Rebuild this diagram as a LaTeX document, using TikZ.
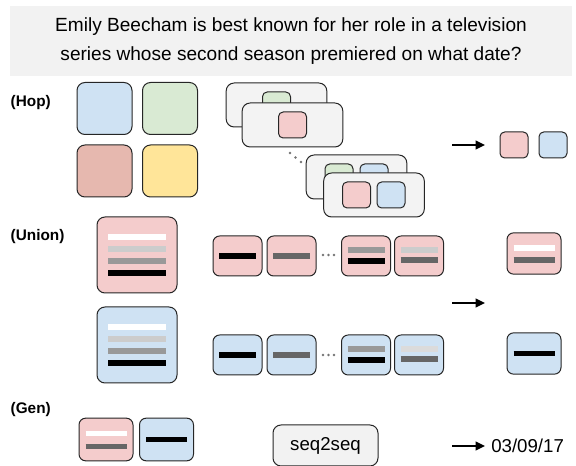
\documentclass[tikz,border=0pt]{standalone}
\usepackage{fontspec}
\setmainfont{Liberation Sans}
\usetikzlibrary{calc,arrows.meta}

\definecolor{qgray}{HTML}{F2F2F2}
\definecolor{cardgray}{HTML}{F3F3F3}
\definecolor{hblue}{HTML}{CFE2F3}
\definecolor{hgreen}{HTML}{D9EAD3}
\definecolor{hred}{HTML}{E6B8AF}
\definecolor{hyellow}{HTML}{FFE599}
\definecolor{hpink}{HTML}{F4CCCC}
\definecolor{lgray}{HTML}{CCCCCC}
\definecolor{mgray}{HTML}{999999}
\definecolor{dgray}{HTML}{666666}

\tikzset{
  tile/.style={draw=black!85, line width=0.75pt, rounded corners=6pt, inner sep=0pt},
  big/.style={tile, minimum width=41.25pt, minimum height=39pt},
  card/.style={tile, fill=cardgray, minimum width=75.5pt, minimum height=33pt},
  chip/.style={tile, rounded corners=3.5pt, minimum width=21pt, minimum height=19.5pt},
  ubig/.style={tile, minimum width=60pt, minimum height=57pt},
  cell/.style={tile, rounded corners=5pt, minimum width=36.75pt, minimum height=30pt},
  res/.style={tile, rounded corners=5pt, minimum width=40.5pt, minimum height=31pt},
  rowlabel/.style={anchor=west, font=\bfseries\fontsize{11.5}{13}\selectfont},
  go/.style={-{Triangle[length=7pt,width=6.5pt]}, line width=1.5pt},
  dot/.style={fill=black!55, circle, inner sep=0pt, minimum size=2pt},
}
% one bar: node, colour, length, y offset
\newcommand{\barline}[4]{\draw[line width=4.2pt, #2] ($(#1)+(-#3/2,#4)$) -- ++(#3,0);}

\begin{document}
\begin{tikzpicture}[x=0.75pt, y=-0.75pt]
\useasboundingbox (0,0) rectangle (576,466);

% question
\node[fill=qgray, minimum width=421.5pt, minimum height=52.5pt, align=center,
  font=\fontsize{14.3}{21.75}\selectfont] (q) at (291,41)
  {Emily Beecham is best known for her role in a television\\series whose second season premiered on what date?};

% (Hop)
\node[rowlabel] (hop) at (6,103) {(Hop)};
\node[big, fill=hblue] (h1) at (104.5,108.5) {};
\node[big, fill=hgreen] (h2) at (170,108.5) {};
\node[big, fill=hred] (h3) at (104.5,171) {};
\node[big, fill=hyellow] (h4) at (170,171) {};

\node[card] (c1) at (276.5,105) {};
\node[chip, fill=hgreen] (c1a) at (276.5,105) {};
\node[card] (c2) at (292.5,125) {};
\node[chip, fill=hpink] (c2a) at (292.5,125) {};

\foreach \i/\p in {1/{(290,153)}, 2/{(295.5,157.5)}, 3/{(301,162)}}
  \node[dot] (hd\i) at \p {};

\node[card] (c3) at (356.5,177) {};
\node[chip, fill=hgreen] (c3a) at (339,177) {};
\node[chip, fill=hblue] (c3b) at (374,177) {};
\node[card] (c4) at (374,195) {};
\node[chip, fill=hpink] (c4a) at (356.5,195) {};
\node[chip, fill=hblue] (c4b) at (391,195) {};

\coordinate (ha) at (452,145);
\coordinate (hb) at (485,145);
\draw[go] (ha) -- (hb);
\node[chip, fill=hpink] (hr1) at (514,145) {};
\node[chip, fill=hblue] (hr2) at (553,145) {};

% (Union)
\node[rowlabel] (union) at (6,237) {(Union)};
\node[ubig, fill=hpink] (u1) at (137,255) {};
\barline{u1}{white}{58}{-18}
\barline{u1}{lgray}{58}{-6}
\barline{u1}{mgray}{58}{6}
\barline{u1}{black}{58}{18}
\node[ubig, fill=hblue] (u2) at (137,345) {};
\barline{u2}{white}{58}{-18}
\barline{u2}{lgray}{58}{-6}
\barline{u2}{mgray}{58}{6}
\barline{u2}{black}{58}{18}

\node[cell, fill=hpink] (p1) at (237.5,256) {};
\node[cell, fill=hpink] (p2) at (291.5,256) {};
\node[cell, fill=hpink] (p3) at (366,256) {};
\node[cell, fill=hpink] (p4) at (419,256) {};
\barline{p1}{black}{37}{0}
\barline{p2}{dgray}{37}{0}
\barline{p3}{mgray}{37}{-6}
\barline{p3}{black}{37}{5}
\barline{p4}{lgray}{37}{-6}
\barline{p4}{dgray}{37}{4}
\foreach \i/\x in {1/323, 2/328.5, 3/334}
  \node[dot] (pd\i) at (\x,255) {};

\node[cell, fill=hblue] (b1) at (237.5,355) {};
\node[cell, fill=hblue] (b2) at (291.5,355) {};
\node[cell, fill=hblue] (b3) at (366,355) {};
\node[cell, fill=hblue] (b4) at (419,355) {};
\barline{b1}{black}{37}{0}
\barline{b2}{dgray}{37}{0}
\barline{b3}{mgray}{37}{-6}
\barline{b3}{black}{37}{5}
\barline{b4}{lgray!70}{37}{-6}
\barline{b4}{dgray}{37}{4}
\foreach \i/\x in {1/323, 2/328.5, 3/334}
  \node[dot] (bd\i) at (\x,355) {};

\coordinate (ua) at (452,303);
\coordinate (ub) at (485,303);
\draw[go] (ua) -- (ub);
\node[res, fill=hpink] (ur1) at (534,253.5) {};
\barline{ur1}{white}{41}{-5.5}
\barline{ur1}{dgray}{41}{6.5}
\node[res, fill=hblue] (ur2) at (534,353.5) {};
\barline{ur2}{black}{41}{0}

% (Gen)
\node[rowlabel] (gen) at (6,410) {(Gen)};
\node[res, minimum height=32pt, fill=hpink] (g1) at (106,439.5) {};
\barline{g1}{white}{41}{-6}
\barline{g1}{dgray}{41}{7}
\node[res, minimum height=32pt, fill=hblue] (g2) at (166.5,439.5) {};
\barline{g2}{black}{41}{0}
\node[tile, fill=qgray, minimum width=78.75pt, minimum height=30.75pt,
  font=\fontsize{14}{16}\selectfont] (s2s) at (325.5,445.5) {seq2seq};
\coordinate (ga) at (452,446);
\coordinate (gb) at (485,446);
\draw[go] (ga) -- (gb);
\node[anchor=west, inner sep=0pt, font=\fontsize{14}{16}\selectfont] (ans) at (491,446) {03/09/17};
\end{tikzpicture}
\end{document}
